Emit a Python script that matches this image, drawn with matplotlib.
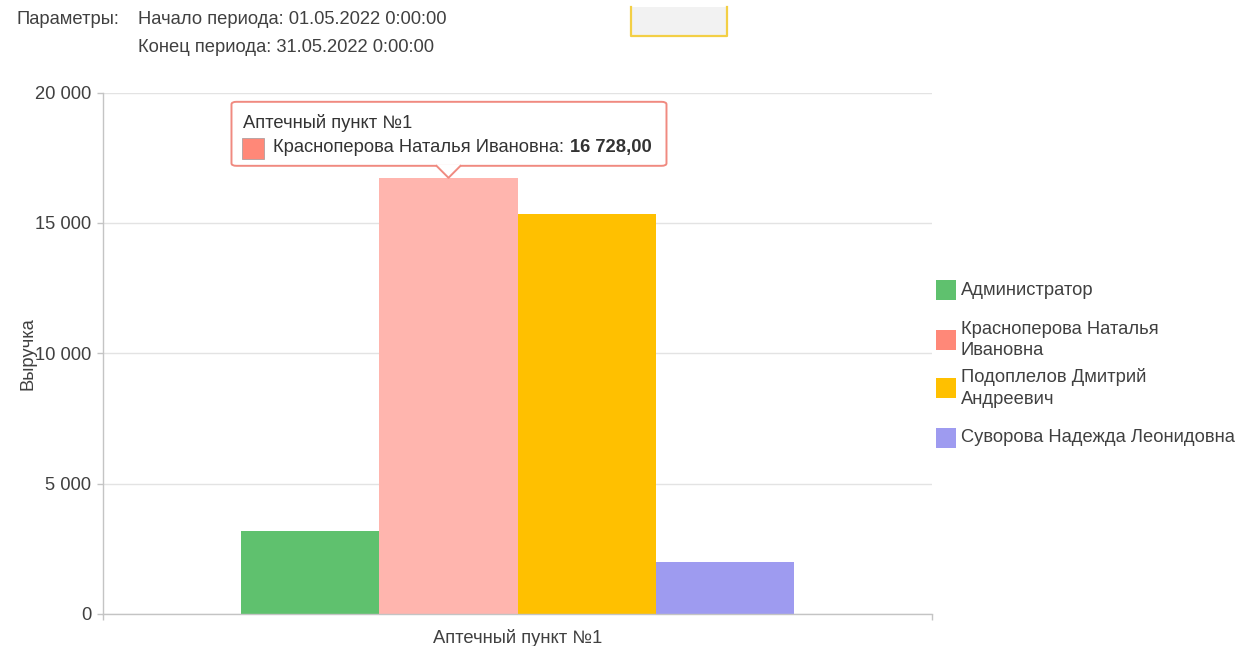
import matplotlib
matplotlib.use("Agg")
import matplotlib.pyplot as plt
from matplotlib.patches import Rectangle, FancyBboxPatch, Polygon
from matplotlib.lines import Line2D

plt.rcParams['font.family'] = ['Liberation Sans', 'DejaVu Sans']

W, H = 1240, 646

# data
category = "Аптечный пункт №1"
series = ["Администратор", "Красноперова Наталья Ивановна",
          "Подоплелов Дмитрий Андреевич", "Суворова Надежда Леонидовна"]
legend_labels = ["Администратор", "Красноперова Наталья\nИвановна",
                 "Подоплелов Дмитрий\nАндреевич", "Суворова Надежда Леонидовна"]
values = [3180, 16728, 15340, 2010]
colors = ["#5fc16e", "#ff8878", "#ffc000", "#9e9bf0"]
hover_color = "#ffb5ae"
hovered = 1
yticks = [0, 5000, 10000, 15000, 20000]
y_label = "Выручка"
params_label = "Параметры:"
params = ["Начало периода: 01.05.2022 0:00:00", "Конец периода: 31.05.2022 0:00:00"]

TXT = "#404040"
AXC = "#c4c4c4"
FS = 13.2


def fx(x):
    return x / W


def fy(y):
    return 1 - y / H


def fmt(v, dec=0):
    s = f"{v:,.{dec}f}"
    return s.replace(",", " ").replace(".", ",")


fig = plt.figure(figsize=(W / 100, H / 100), dpi=100)
ax = fig.add_axes([fx(103), fy(614), fx(932) - fx(103), fy(92.5) - fy(614)])

# bars
group_w = 0.666
bw = group_w / len(series)
xs = []
for i, (name, v) in enumerate(zip(series, values)):
    x = (i - (len(series) - 1) / 2) * bw
    xs.append(x)
    c = hover_color if i == hovered else colors[i]
    ax.bar(x, v, width=bw, color=c, linewidth=0, zorder=3)

ax.set_xlim(-0.5, 0.5)
ax.set_ylim(0, 20000)
ax.set_yticks(yticks)
ax.set_yticklabels([fmt(t) for t in yticks])
ax.set_xticks([0])
ax.set_xticklabels([category])
ax.set_xticks([-0.5, 0.5], minor=True)
ax.tick_params(axis='x', which='major', length=0, pad=10.5, labelsize=FS, labelcolor=TXT)
ax.tick_params(axis='x', which='minor', length=4.5, width=1, color=AXC)
ax.tick_params(axis='y', length=4.5, width=1, color=AXC, pad=4, labelsize=FS, labelcolor=TXT)
ax.grid(axis='y', color="#e3e3e3", linewidth=1, zorder=0)
ax.set_axisbelow(True)
for s in ["top", "right"]:
    ax.spines[s].set_visible(False)
for s in ["left", "bottom"]:
    ax.spines[s].set_color(AXC)
    ax.spines[s].set_linewidth(1)
    ax.spines[s].set_zorder(4)
ax.set_ylabel(y_label, fontsize=FS, color=TXT)
ax.yaxis.set_label_coords((36 - 103) / 829, 0.5)

# legend drawn by hand so spacing matches
leg_y = [290, 340, 388, 438]
for lab, c, y in zip(legend_labels, colors, leg_y):
    fig.add_artist(Rectangle((fx(936), fy(y + 10)), fx(20), 20 / H, color=c,
                             transform=fig.transFigure, linewidth=0))
    fig.text(fx(961), fy(y), lab, fontsize=FS, color=TXT, va='center', ha='left',
             linespacing=1.32)

# header
fig.text(fx(17), fy(20), params_label, fontsize=FS, color=TXT, va='center')
for k, p in enumerate(params):
    fig.text(fx(138), fy(20 + 27 * k), p, fontsize=FS, color=TXT, va='center')
fig.add_artist(Rectangle((fx(631), fy(36)), fx(96), 29 / H, facecolor="#f2f2f2",
                         linewidth=0, transform=fig.transFigure))
fig.add_artist(Line2D([fx(631), fx(631), fx(727), fx(727)], [fy(7), fy(36), fy(36), fy(7)],
                      color="#f3cf45", linewidth=1.6, transform=fig.transFigure))

# tooltip for hovered bar
fig.canvas.draw()
tip = fig.transFigure.inverted().transform(ax.transData.transform((xs[hovered], values[hovered])))
tx, ty = tip[0] * W, (1 - tip[1]) * H
edge = "#f08a80"
box = FancyBboxPatch((fx(tx - 217), fy(ty - 12)), fx(435), 64 / H,
                     boxstyle="round,pad=0,rounding_size=0.004",
                     facecolor="white", edgecolor=edge, linewidth=1.4,
                     transform=fig.transFigure, zorder=5)
fig.add_artist(box)
fig.add_artist(Polygon([(fx(tx - 13), fy(ty - 13.5)), (fx(tx), fy(ty)), (fx(tx + 13), fy(ty - 13.5))],
                       closed=True, facecolor="white", edgecolor='none',
                       transform=fig.transFigure, zorder=6))
fig.add_artist(Line2D([fx(tx - 12), fx(tx), fx(tx + 12)], [fy(ty - 12), fy(ty), fy(ty - 12)],
                      color=edge, linewidth=1.4, transform=fig.transFigure, zorder=7))
fig.text(fx(tx - 205), fy(ty - 55), category, fontsize=FS, color="#333333", va='center', zorder=8)
fig.add_artist(Rectangle((fx(tx - 206), fy(ty - 19)), fx(22), 21 / H, facecolor=colors[hovered],
                         edgecolor="#b0a0a0", linewidth=0.6, transform=fig.transFigure, zorder=8))
name_t = fig.text(fx(tx - 175), fy(ty - 30), series[hovered] + ":", fontsize=FS,
                  color="#333333", va='center', zorder=8)
bb = name_t.get_window_extent(fig.canvas.get_renderer())
fig.text(fx(bb.x1 + 6), fy(ty - 30), fmt(values[hovered], 2), fontsize=FS,
         fontweight='bold', color="#333333", va='center', zorder=8)

fig.savefig("out.png", dpi=100)
